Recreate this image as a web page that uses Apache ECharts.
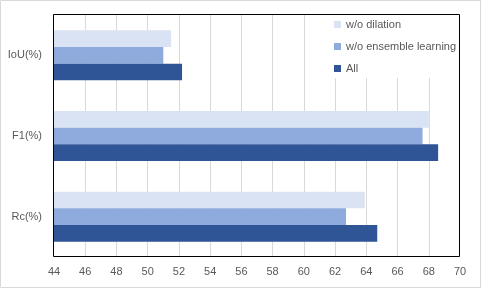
<!DOCTYPE html>
<html><head><meta charset="utf-8">
<script src="https://cdn.jsdelivr.net/npm/echarts@6/dist/echarts.min.js"></script>
<style>html,body{margin:0;padding:0;background:#fff}#c{width:481px;height:288px}</style>
</head><body><div id="c"></div>
<script>
const categories = ['IoU(%)', 'F1(%)', 'Rc(%)'];
const seriesNames = ['w/o dilation', 'w/o ensemble learning', 'All'];
const woDilation = [51.5, 68.0, 63.9];
const woEnsemble = [51.0, 67.6, 62.7];
const allVals = [52.2, 68.6, 64.7];
const xTicks = [44, 70, 2];

const colors = ['#DAE3F3', '#8FAADC', '#2F5597'];
const font = 'Liberation Sans';
const chart = echarts.init(document.getElementById('c'));
chart.setOption({
  animation: false,
  textStyle: {fontFamily: font},
  graphic: [
    {type: 'rect', shape: {x: 0.5, y: 0.5, width: 480, height: 287}, style: {fill: 'none', stroke: '#D9D9D9', lineWidth: 1}, z: 100},
    {type: 'rect', shape: {x: 53.5, y: 14.5, width: 406, height: 242}, style: {fill: 'none', stroke: '#000', lineWidth: 1}, z: 100}
  ],
  grid: {left: 54, right: 21, top: 15, bottom: 31, show: false, containLabel: false},
  legend: {
    orient: 'vertical', left: 330, top: 15, itemWidth: 7, itemHeight: 7, itemGap: 11,
    backgroundColor: '#fff', padding: [4, 4, 4, 4],
    data: seriesNames, icon: 'rect',
    textStyle: {color: '#595959', fontSize: 11, fontFamily: font}
  },
  xAxis: {
    type: 'value', min: xTicks[0], max: xTicks[1], interval: xTicks[2],
    axisLine: {show: false}, axisTick: {show: false},
    splitLine: {lineStyle: {color: '#D9D9D9', width: 1}, showMinLine: false, showMaxLine: false},
    axisLabel: {color: '#595959', fontSize: 11, margin: 9}
  },
  yAxis: {
    type: 'category', data: categories, inverse: true,
    axisLine: {show: false}, axisTick: {show: false},
    axisLabel: {color: '#595959', fontSize: 11, margin: 12}
  },
  series: [
    {name: seriesNames[0], type: 'bar', data: woDilation, itemStyle: {color: colors[0]}, barGap: '0%', barCategoryGap: '38%'},
    {name: seriesNames[1], type: 'bar', data: woEnsemble, itemStyle: {color: colors[1]}, barGap: '0%', barCategoryGap: '38%'},
    {name: seriesNames[2], type: 'bar', data: allVals, itemStyle: {color: colors[2]}, barGap: '0%', barCategoryGap: '38%'}
  ]
});
</script></body></html>
